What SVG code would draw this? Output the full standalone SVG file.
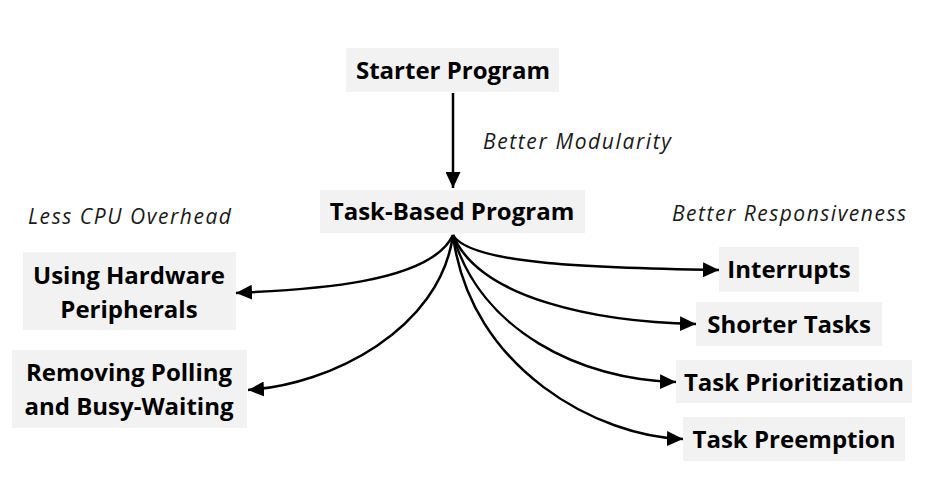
<svg xmlns="http://www.w3.org/2000/svg" width="937" height="485" viewBox="0 0 937 485">
<style>
.box{fill:#f2f2f2}
.t{font-family:"Open Sans","Liberation Sans",sans-serif;font-weight:bold;font-size:24px;fill:#000;text-anchor:middle}
.i{font-family:"Open Sans","Liberation Sans",sans-serif;font-style:italic;font-size:21px;fill:#1a1a1a}
.c{fill:none;stroke:#000;stroke-width:2.5}
</style>
<defs>
<marker id="ah" markerUnits="userSpaceOnUse" markerWidth="17" markerHeight="15" refX="16" refY="7.5" orient="auto">
<path d="M0,0 L16,7.5 L0,15 Z" fill="#000"/>
</marker>
</defs>
<rect width="937" height="485" fill="#fff"/>
<g id="starter"><rect class="box" x="346" y="48" width="213" height="44"/><text class="t" x="453" y="79">Starter Program</text></g>
<g id="taskbased"><rect class="box" x="320" y="190" width="265" height="43"/><text class="t" x="452" y="220">Task-Based Program</text></g>
<g id="hardware"><rect class="box" x="23" y="252" width="213" height="78"/><text class="t" x="129" y="284">Using Hardware</text><text class="t" x="129" y="318">Peripherals</text></g>
<g id="polling"><rect class="box" x="12" y="350" width="235" height="78"/><text class="t" x="129" y="381">Removing Polling</text><text class="t" x="129" y="415">and Busy-Waiting</text></g>
<g id="interrupts"><rect class="box" x="719" y="247" width="140" height="45"/><text class="t" x="789" y="278">Interrupts</text></g>
<g id="shorter"><rect class="box" x="696" y="302" width="186" height="44"/><text class="t" x="789" y="333">Shorter Tasks</text></g>
<g id="prio"><rect class="box" x="676" y="360" width="236" height="43"/><text class="t" x="794" y="391">Task Prioritization</text></g>
<g id="preempt"><rect class="box" x="683" y="417" width="222" height="44"/><text class="t" x="794" y="448">Task Preemption</text></g>
<g id="labels">
<text class="i" x="483" y="149" textLength="188" lengthAdjust="spacing">Better Modularity</text>
<text class="i" x="28" y="224" textLength="203" lengthAdjust="spacing">Less CPU Overhead</text>
<text class="i" x="672" y="221" textLength="234" lengthAdjust="spacing">Better Responsiveness</text>
</g>
<g id="connectors">
<path class="c" d="M453,93 L453,188" marker-end="url(#ah)"/>
<path class="c" d="M453,235 C430,285 300,290 236,293" marker-end="url(#ah)"/>
<path class="c" d="M453,235 C440,330 330,385 248,390" marker-end="url(#ah)"/>
<path class="c" d="M453,235 C470,265 600,268 719,270" marker-end="url(#ah)"/>
<path class="c" d="M453,235 C480,300 600,322 696,324" marker-end="url(#ah)"/>
<path class="c" d="M453,235 C480,330 580,380 676,382" marker-end="url(#ah)"/>
<path class="c" d="M453,235 C470,370 600,437 683,439" marker-end="url(#ah)"/>
</g>
</svg>
